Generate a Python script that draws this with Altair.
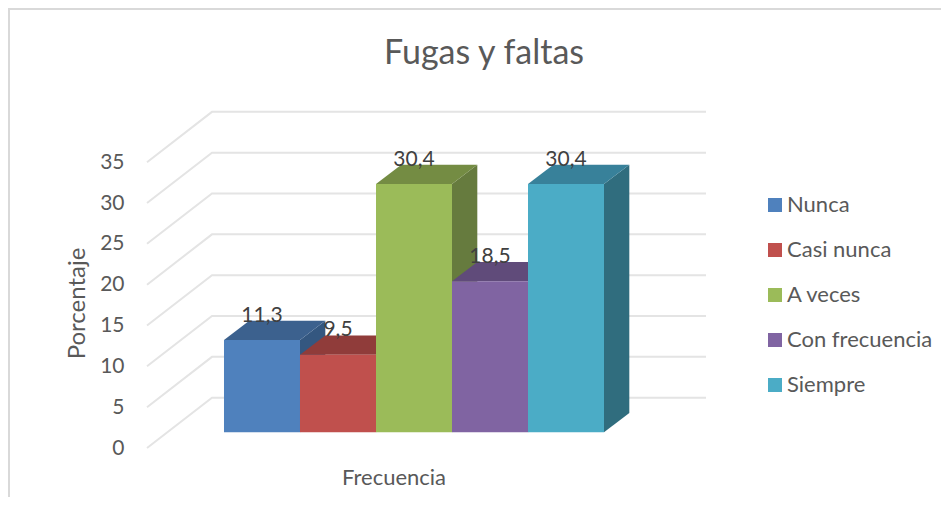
import altair as alt
import pandas as pd

categories = ["Nunca", "Casi nunca", "A veces", "Con frecuencia", "Siempre"]
values = [11.3, 9.5, 30.4, 18.5, 30.4]
labels = ["11,3", "9,5", "30,4", "18,5", "30,4"]
front_colors = ["#4F81BD", "#C0504D", "#9BBB59", "#8064A2", "#4BACC6"]
top_colors = ["#3C618E", "#903C3A", "#748C43", "#604B7A", "#38819A"]
side_colors = ["#345780", "#7D3432", "#667B3E", "#54426B", "#306D7E"]
y_ticks = [0, 5, 10, 15, 20, 25, 30, 35]

FONT = "Lato"
BASE = 1.92      # bar floor, in y-scale units
DX, DY = 0.333, 2.365   # bar depth
X0, X_BACK, X1 = -1.013, -0.158, 6.342
WALL = 6.16
x_scale = alt.Scale(domain=[X0, X1], nice=False, zero=False)
y_scale = alt.Scale(domain=[0, 42], nice=False, zero=False)

front, side, top, grid = [], [], [], []
for i, (c, v, lab) in enumerate(zip(categories, values, labels)):
    t = BASE + v
    front.append(dict(cat=c, x=i, x2=i + 1, y=t, y2=BASE, label=lab, xm=i + 0.5, ym=t + 3.0))
    side += [dict(s=side_colors[i], x=i + 1, y=t, y2=BASE),
             dict(s=side_colors[i], x=i + 1 + DX, y=t + DY, y2=BASE + DY)]
    top += [dict(s=top_colors[i], y=t, x=i, x2=i + 1),
            dict(s=top_colors[i], y=t + DY, x=i + DX, x2=i + 1 + DX)]
for v in y_ticks:
    grid += [dict(g=v, o=0, x=X0, y=v), dict(g=v, o=1, x=X_BACK, y=v + WALL), dict(g=v, o=2, x=X1, y=v + WALL)]

xq = alt.X("x:Q", scale=x_scale, axis=alt.Axis(
    title="Frecuencia", labels=False, ticks=False, domain=False, grid=False,
    titleX=246.5, titleY=29, titleFont=FONT, titleFontSize=22, titleFontWeight="normal",
    titleColor="#595959", titleBaseline="middle", titleAlign="center"))
yq = alt.Y("y:Q", scale=y_scale, axis=alt.Axis(
    title="Porcentaje", values=y_ticks, ticks=False, domain=False, grid=False,
    labelFont=FONT, labelFontSize=21, labelColor="#595959", labelPadding=23,
    titleFont=FONT, titleFontSize=24, titleFontWeight="normal", titleColor="#595959",
    titleX=-70, titleY=198, titleAlign="center", titleBaseline="middle"))

frame_color = "#D9D9D9"
frame_v = alt.Chart(pd.DataFrame({"a": [0]})).mark_rule(color=frame_color, strokeWidth=2).encode(
    x=alt.value(-138), y=alt.value(-97), y2=alt.value(392))
frame_h = alt.Chart(pd.DataFrame({"a": [0]})).mark_rule(color=frame_color, strokeWidth=2).encode(
    y=alt.value(-96), x=alt.value(-139), x2=alt.value(794))

grid_layer = alt.Chart(pd.DataFrame(grid)).mark_line(color="#E4E4E4", strokeWidth=2).encode(
    x=xq, y=yq, detail="g:N", order="o:Q")
side_layer = alt.Chart(pd.DataFrame(side)).mark_area(opacity=1).encode(
    x=alt.X("x:Q", scale=x_scale), y=alt.Y("y:Q", scale=y_scale), y2="y2:Q",
    fill=alt.Fill("s:N", scale=None))
top_layer = alt.Chart(pd.DataFrame(top)).mark_area(orient="horizontal", opacity=1).encode(
    y=alt.Y("y:Q", scale=y_scale), x=alt.X("x:Q", scale=x_scale), x2="x2:Q",
    fill=alt.Fill("s:N", scale=None))
fdf = pd.DataFrame(front)
front_layer = alt.Chart(fdf).mark_rect().encode(
    x=alt.X("x:Q", scale=x_scale), x2="x2:Q",
    y=alt.Y("y:Q", scale=y_scale), y2="y2:Q",
    color=alt.Color("cat:N", title=None,
                    scale=alt.Scale(domain=categories, range=front_colors),
                    sort=categories,
                    legend=alt.Legend(orient="none", legendX=617, legendY=89,
                                      symbolType="square", symbolSize=196, symbolStrokeWidth=0,
                                      symbolOpacity=1, labelFont=FONT, labelFontSize=22,
                                      labelColor="#595959", rowPadding=23, labelOffset=1,
                                      labelLimit=300)))
text_layer = alt.Chart(fdf).mark_text(font=FONT, fontSize=21, color="#404040", baseline="middle").encode(
    x=alt.X("xm:Q", scale=x_scale), y=alt.Y("ym:Q", scale=y_scale), text="label:N")

chart = alt.layer(frame_v, frame_h, grid_layer, side_layer, top_layer, front_layer, text_layer).properties(
    width=559, height=343,
    padding={"left": 139, "top": 97, "right": 235, "bottom": 49},
    autosize=alt.AutoSizeParams(type="none"),
    background="white",
    title=alt.TitleParams("Fugas y faltas", font=FONT, fontSize=34, fontWeight="normal", color="#595959",
                          anchor="middle", frame="group", dx=57.5, dy=68),
).configure_view(stroke=None)

chart.save("out.html", embed_options={"renderer": "svg", "actions": False})
